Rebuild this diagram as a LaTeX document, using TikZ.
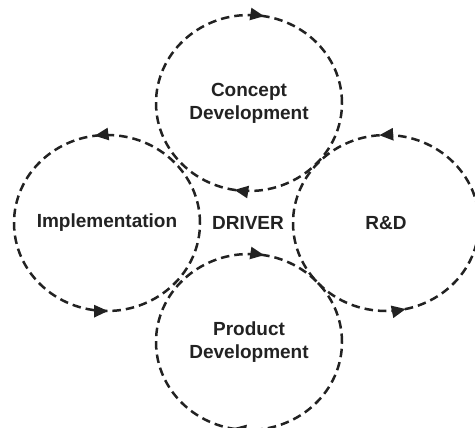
\documentclass[tikz,border=0pt]{standalone}
\usepackage{fontspec}
\setmainfont{Liberation Sans}
\usepackage{xcolor}
\usetikzlibrary{shapes.geometric, arrows.meta, positioning, calc, decorations.markings}
\definecolor{ink}{HTML}{222222}

\begin{document}
\begin{tikzpicture}[x=1pt, y=-1pt, thick, ink,
    font=\fontsize{19}{23}\selectfont\bfseries,
    loop/.style={draw, ellipse, line width=2.5pt, dash pattern=on 8.5pt off 5pt,
        minimum width=186pt, minimum height=176pt, inner sep=0pt},
    ccw/.style 2 args={postaction={decorate, decoration={markings,
        mark=at position #1 with {\arrow{Triangle[length=14pt, width=12pt]}},
        mark=at position #2 with {\arrow{Triangle[length=14pt, width=12pt]}}}}},
    cw/.style 2 args={postaction={decorate, decoration={markings,
        mark=at position #1 with {\arrowreversed{Triangle[length=14pt, width=12pt]}},
        mark=at position #2 with {\arrowreversed{Triangle[length=14pt, width=12pt]}}}}}]
    \useasboundingbox (0,0) rectangle (475,428);

    % Labels
    \node[text=ink] (driver) at (248,223) {DRIVER};
    \node[text=ink, align=center] (concept) at ($(driver)+(1,-120)$) {Concept\\Development};
    \node[text=ink] (impl) at ($(driver)+(-141,0)$) {Implementation};
    \node[text=ink] (rnd) at ($(driver)+(138,0)$) {R\&D};
    \node[text=ink, align=center] (product) at ($(driver)+(1,119)$) {Product\\Development};

    % Loops
    \node[loop, cw={0.223}{0.724}] (conceptloop) at (concept) {};
    \node[loop, ccw={0.272}{0.752}] (implloop) at (impl) {};
    \node[loop, ccw={0.262}{0.785}] (rndloop) at (rnd) {};
    \node[loop, cw={0.223}{0.72}] (productloop) at (product) {};
\end{tikzpicture}
\end{document}
